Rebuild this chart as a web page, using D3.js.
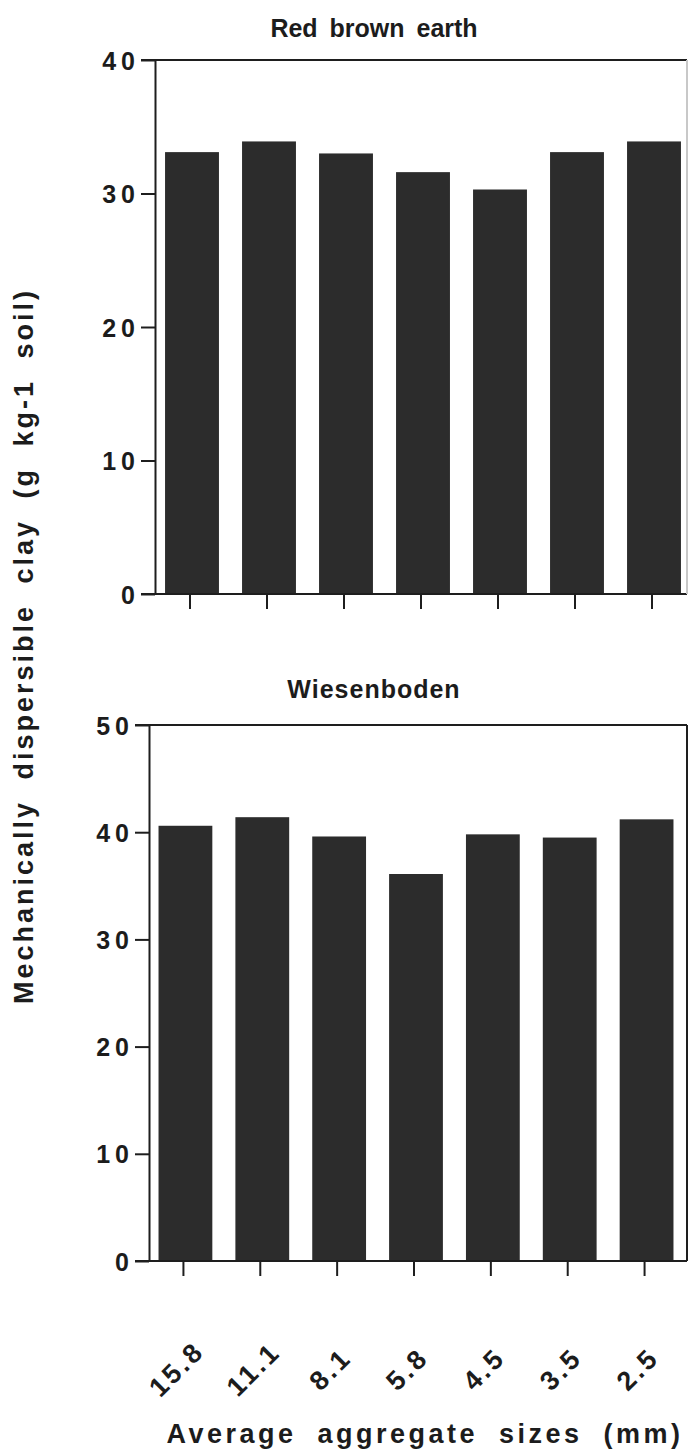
<!DOCTYPE html>
<html>
<head>
<meta charset="utf-8">
<script src="https://cdn.jsdelivr.net/npm/d3@7"></script>
<style>
  html, body { margin: 0; padding: 0; background: #fff; }
  svg { display: block; }
  text { font-family: "Liberation Sans", Arial, Helvetica, sans-serif; font-weight: bold; fill: #1c1c1c; }
</style>
</head>
<body>
<script>
// Aggregate size classes (mm)
const categories = ["15.8", "11.1", "8.1", "5.8", "4.5", "3.5", "2.5"];
// Mechanically dispersible clay, g kg-1 soil
const redBrownEarth = [33.1, 33.9, 33.0, 31.6, 30.3, 33.1, 33.9];
const wiesenboden = [40.6, 41.4, 39.6, 36.1, 39.8, 39.5, 41.2];
// Y tick values for each panel
const redBrownTicks = [0, 10, 20, 30, 40];
const wiesenTicks = [0, 10, 20, 30, 40, 50];

const W = 689, H = 1451;
const ink = "#1e1e1e";
const barFill = "#2c2c2c";
const FONT = "'Liberation Sans', Arial, Helvetica, sans-serif";

const svg = d3.select("body").append("svg")
  .attr("width", W).attr("height", H);

const panels = [
  { title: "Red brown earth", values: redBrownEarth, ticks: redBrownTicks, max: 40,
    axisX: 155, right: 687, top: 60, zero: 594, band: [153.5, 692.5], titleY: 37,
    titleSpacing: "0px", rightBorder: "#c8c8c8", tickLabels: false },
  { title: "Wiesenboden", values: wiesenboden, ticks: wiesenTicks, max: 50,
    axisX: 149, right: 687, top: 725, zero: 1261, band: [147, 685], titleY: 698,
    titleSpacing: "1px", rightBorder: ink, tickLabels: true }
];

panels.forEach(p => {
  const g = svg.append("g");
  const y = d3.scaleLinear().domain([0, p.max]).range([p.zero, p.top]);
  const x = d3.scaleBand().domain(categories).range(p.band)
    .paddingInner(0.3).paddingOuter(0.15);

  // bars
  g.selectAll("rect.bar").data(p.values).join("rect")
    .attr("class", "bar")
    .attr("x", (d, i) => x(categories[i]))
    .attr("width", x.bandwidth())
    .attr("y", d => y(d))
    .attr("height", d => y(0) - y(d))
    .attr("fill", barFill);

  // frame: top line, baseline, right border
  g.append("line").attr("x1", p.axisX - 14).attr("x2", p.right)
    .attr("y1", p.top).attr("y2", p.top)
    .attr("stroke", ink).attr("stroke-width", 2);
  g.append("line").attr("x1", p.axisX - 14).attr("x2", p.right)
    .attr("y1", p.zero).attr("y2", p.zero)
    .attr("stroke", ink).attr("stroke-width", 2);
  g.append("line").attr("x1", p.right).attr("x2", p.right)
    .attr("y1", p.top).attr("y2", p.zero)
    .attr("stroke", p.rightBorder).attr("stroke-width", 2);

  // y axis
  const ya = g.append("g").attr("transform", `translate(${p.axisX},0)`)
    .call(d3.axisLeft(y).tickValues(p.ticks).tickSize(14).tickSizeOuter(0));
  ya.select(".domain").attr("stroke", ink).attr("stroke-width", 2);
  ya.selectAll(".tick line").attr("stroke", ink).attr("stroke-width", 2);
  ya.selectAll(".tick text")
    .attr("x", -15)
    .attr("dy", "0.36em")
    .style("font-size", "25px")
    .style("font-family", FONT)
    .style("font-weight", "bold")
    .style("letter-spacing", "5px")
    .attr("fill", ink);

  // x axis ticks
  const xa = g.append("g").attr("transform", `translate(-2,${p.zero})`)
    .call(d3.axisBottom(x).tickSize(15).tickSizeOuter(0));
  xa.select(".domain").remove();
  xa.selectAll(".tick line").attr("stroke", ink).attr("stroke-width", 2);
  if (p.tickLabels) {
    xa.selectAll(".tick text")
      .attr("y", 0).attr("dy", "0.35em")
      .attr("text-anchor", "middle")
      .attr("transform", "translate(-7,108) rotate(-45)")
      .style("font-size", "27px")
      .style("font-family", FONT)
      .style("font-weight", "bold")
      .style("letter-spacing", "3px")
      .attr("fill", ink);
  } else {
    xa.selectAll(".tick text").remove();
  }

  // panel title
  svg.append("text")
    .attr("x", 374).attr("y", p.titleY)
    .attr("text-anchor", "middle")
    .style("font-size", "25px")
    .style("letter-spacing", p.titleSpacing)
    .style("word-spacing", "5px")
    .text(p.title);
});

// shared y-axis title
svg.append("text")
  .attr("transform", "translate(33,646) rotate(-90)")
  .attr("text-anchor", "middle")
  .style("font-size", "27px")
  .style("letter-spacing", "3px")
  .style("word-spacing", "10px")
  .text("Mechanically dispersible clay (g kg-1 soil)");

// x-axis title
svg.append("text")
  .attr("x", 425).attr("y", 1443)
  .attr("text-anchor", "middle")
  .style("font-size", "27px")
  .style("letter-spacing", "3.5px")
  .style("word-spacing", "10px")
  .text("Average aggregate sizes (mm)");
</script>
</body>
</html>
